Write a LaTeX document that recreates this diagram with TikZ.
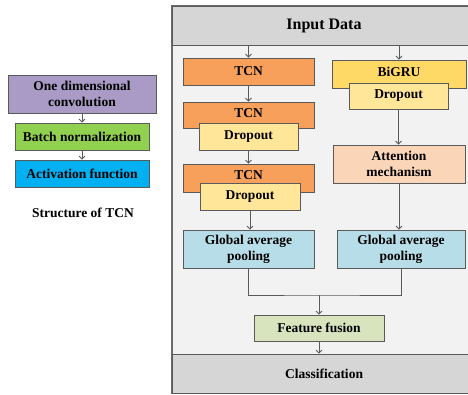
\documentclass[tikz,border=0pt]{standalone}
\usepackage{fontspec}
\setmainfont{Liberation Serif}
\usetikzlibrary{arrows.meta,calc}
\definecolor{panelbg}{HTML}{F2F2F2}
\definecolor{bandgray}{HTML}{D6D6D6}
\definecolor{tcnorange}{HTML}{F7A05C}
\definecolor{grugold}{HTML}{FFD966}
\definecolor{dropyel}{HTML}{FFE699}
\definecolor{attpeach}{HTML}{FBD5B8}
\definecolor{gapblue}{HTML}{B7DEE8}
\definecolor{ffgreen}{HTML}{D7E4BD}
\definecolor{convpurple}{HTML}{A99BC6}
\definecolor{bngreen}{HTML}{92D050}
\definecolor{actblue}{HTML}{00B0F0}
\definecolor{edge}{HTML}{5A5A5A}
\newcommand{\blockat}[7]{%
  \node[blk, fill=#6, minimum width={(#4)-(#2)}, minimum height={(#5)-(#3)}] (#1) at ({((#2)+(#4))/2},{((#3)+(#5))/2}) {#7};}
\begin{document}
\begin{tikzpicture}[x=1pt,y=-1pt,
  blk/.style={draw=edge, line width=0.8pt, inner sep=0pt, align=center,
    font=\fontsize{13.5}{16}\selectfont\bfseries},
  lbl/.style={inner sep=0pt, font=\fontsize{13.5}{16}\selectfont\bfseries},
  conn/.style={draw=edge, line width=0.8pt, -{Straight Barb[length=3pt,width=6pt]}},
  plain/.style={draw=edge, line width=0.8pt}]
\useasboundingbox (0,0) rectangle (468,395);
\begin{scope}
\clip (0,0) rectangle (468,395);
% panel
\node[draw=edge!90, line width=1.5pt, fill=panelbg, inner sep=0pt, minimum width=304pt, minimum height=387pt] (panel) at (324,199.5) {};
\blockat{hdr}{172}{6}{476}{45}{bandgray}{\fontsize{16}{18}\selectfont Input Data}
\blockat{cls}{172}{354}{476}{393}{bandgray}{Classification}
\end{scope}
% left branch
\blockat{tcnA}{183}{58}{314}{85}{tcnorange}{TCN}
\blockat{tcnB}{183}{102}{314}{128}{tcnorange}{}
\node[lbl] (tcnBt) at ($(tcnB.north)+(0,11)$) {TCN};
\blockat{dropB}{199}{123}{298}{150}{dropyel}{Dropout}
\blockat{tcnC}{183}{164}{314}{192}{tcnorange}{}
\node[lbl] (tcnCt) at ($(tcnC.north)+(0,11)$) {TCN};
\blockat{dropC}{200}{183}{300}{210}{dropyel}{Dropout}
\blockat{gapL}{183}{230}{314}{268}{gapblue}{Global average\\pooling}
% right branch
\blockat{gru}{332}{60}{466}{88}{grugold}{}
\node[lbl] (grut) at ($(gru.north)+(0,12)$) {BiGRU};
\blockat{dropR}{349}{83}{448}{109}{dropyel}{Dropout}
\blockat{att}{333}{145}{465}{183}{attpeach}{Attention\\mechanism}
\blockat{gapR}{337}{230}{465}{268}{gapblue}{Global average\\pooling}
% fusion
\blockat{ff}{254}{315}{384}{341}{ffgreen}{Feature fusion}
% left structure
\blockat{conv}{8}{75}{156}{113}{convpurple}{One dimensional\\convolution}
\blockat{bn}{15}{123}{149}{150}{bngreen}{Batch normalization}
\blockat{act}{15}{160}{149}{187}{actblue}{Activation function}
\node[lbl] (cap) at (83,213) {Structure of TCN};
% connectors
\draw[conn] (hdr.south -| tcnA.north) -- (tcnA.north);
\draw[conn] (tcnA.south) -- (tcnB.north);
\draw[conn] (dropB.south) -- (dropB.south |- tcnC.north);
\draw[conn] (dropC.south) -- (dropC.south |- gapL.north);
\draw[conn] (hdr.south -| gru.north) -- (gru.north);
\draw[conn] (dropR.south) -- (dropR.south |- att.north);
\draw[conn] (att.south) -- (att.south |- gapR.north);
\coordinate (mj) at (ff.north |- 0,295);
\draw[plain] (gapL.south) |- (mj) -| (gapR.south);
\draw[conn] (mj) -- (ff.north);
\draw[conn] (ff.south) -- (ff.south |- cls.north);
\draw[conn] (conv.south -| bn.north) -- (bn.north);
\draw[conn] (bn.south) -- (act.north);
\end{tikzpicture}
\end{document}
